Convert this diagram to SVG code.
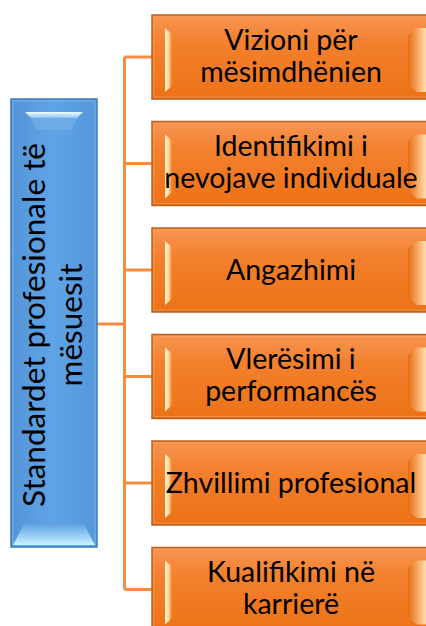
<svg xmlns="http://www.w3.org/2000/svg" width="426" height="626" viewBox="0 0 426 626">
<defs>
<linearGradient id="og" x1="0" y1="0" x2="0" y2="1">
<stop offset="0" stop-color="#F79453"/>
<stop offset="0.35" stop-color="#F3802C"/>
<stop offset="1" stop-color="#EC7216"/>
</linearGradient>
<linearGradient id="hl" x1="0" y1="0" x2="1" y2="0">
<stop offset="0" stop-color="#FFF0C8"/>
<stop offset="0.5" stop-color="#FDD79A"/>
<stop offset="1" stop-color="#F3862F" stop-opacity="0"/>
</linearGradient>
<linearGradient id="hr" x1="0" y1="0" x2="1" y2="0">
<stop offset="0" stop-color="#E46E16"/>
<stop offset="0.45" stop-color="#F7A45E"/>
<stop offset="1" stop-color="#FFEBC0"/>
</linearGradient>
<linearGradient id="bg" x1="0" y1="0" x2="1" y2="0">
<stop offset="0" stop-color="#5495D8"/>
<stop offset="0.5" stop-color="#5FA4E6"/>
<stop offset="1" stop-color="#5397DA"/>
</linearGradient>
<linearGradient id="bt" x1="0" y1="0" x2="0" y2="1">
<stop offset="0" stop-color="#F0FDFF"/>
<stop offset="1" stop-color="#8CC4F0"/>
</linearGradient>
<linearGradient id="bb" x1="0" y1="0" x2="0" y2="1">
<stop offset="0" stop-color="#5EA2E2"/>
<stop offset="1" stop-color="#C8F2FF"/>
</linearGradient>
<g id="obox">
<rect x="0" y="0" width="278" height="84" fill="url(#og)" stroke="#B9621F" stroke-width="1.5"/>
<rect x="2" y="2" width="274" height="80" fill="none" stroke="#F9A366" stroke-width="1" opacity="0.6"/>
<polygon points="13,13 21,20 21,70 13,77" fill="url(#hl)"/>
<polygon points="256,20 265,13 276,13 276,77 265,77 256,70" fill="url(#hr)"/>
</g>
</defs>
<style>
.t{font-family:Lato,"Liberation Sans",sans-serif;font-size:28.5px;fill:#000;text-anchor:middle}
.bt{font-family:Lato,"Liberation Sans",sans-serif;font-size:31.5px;fill:#000;text-anchor:middle}
.c{stroke:#F68B42;stroke-width:3;fill:none}
</style>
<g id="connectors">
<path class="c" d="M124.5 57V589.5M97 324H124.5M124.5 57H152M124.5 163.5H152M124.5 270H152M124.5 376.5H152M124.5 483H152M124.5 589.5H152"/>
</g>
<g id="root">
<rect x="11" y="99" width="86" height="448" fill="url(#bg)" stroke="#3C7CC0" stroke-width="1.5"/>
<rect x="13" y="101" width="82" height="444" fill="none" stroke="#86BDEE" stroke-width="1" opacity="0.7"/>
<polygon points="25,112 83,112 77,118 31,118" fill="url(#bt)"/>
<polygon points="31,118 77,118 72,130 36,130" fill="#7DB6EA" opacity="0.5"/>
<polygon points="24,524 84,524 95,545 13,545" fill="url(#bb)"/>
<g transform="translate(54,325) rotate(-90)">
<text class="bt" x="0" y="-9">Standardet profesionale të</text>
<text class="bt" x="0" y="28">mësuesit</text>
</g>
</g>
<g id="n1">
<use href="#obox" x="152" y="15"/>
<text class="t" x="291" y="49.5">Vizioni për</text>
<text class="t" x="291" y="81.5">mësimdhënien</text>
</g>
<g id="n2">
<use href="#obox" x="152" y="121.5"/>
<text class="t" x="291" y="156">Identifikimi i</text>
<text class="t" x="291" y="188">nevojave individuale</text>
</g>
<g id="n3">
<use href="#obox" x="152" y="228"/>
<text class="t" x="291" y="280">Angazhimi</text>
</g>
<g id="n4">
<use href="#obox" x="152" y="334.5"/>
<text class="t" x="291" y="369">Vlerësimi i</text>
<text class="t" x="291" y="401">performancës</text>
</g>
<g id="n5">
<use href="#obox" x="152" y="441"/>
<text class="t" x="291" y="493">Zhvillimi profesional</text>
</g>
<g id="n6">
<use href="#obox" x="152" y="547.5"/>
<text class="t" x="291" y="582">Kualifikimi në</text>
<text class="t" x="291" y="614">karrierë</text>
</g>
</svg>
